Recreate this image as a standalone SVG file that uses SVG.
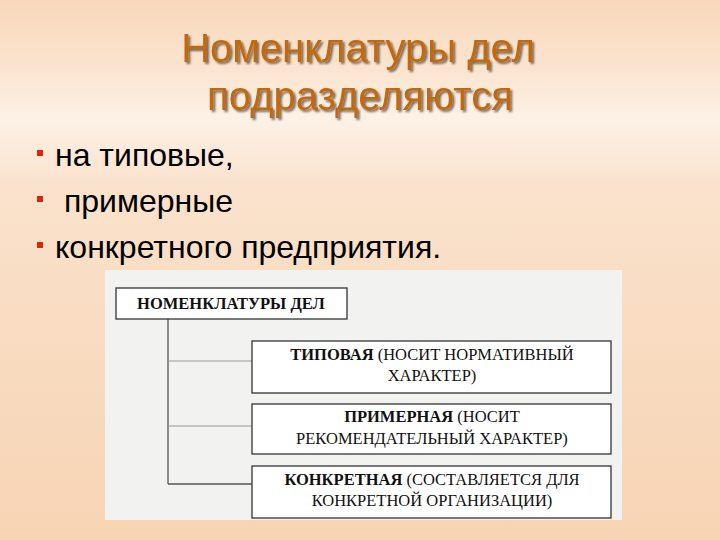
<svg xmlns="http://www.w3.org/2000/svg" width="720" height="540" viewBox="0 0 720 540">
<defs>
<linearGradient id="bg" x1="0" y1="0" x2="0" y2="1">
<stop offset="0" stop-color="#f8d8ba"/>
<stop offset="0.14" stop-color="#fbe6d2"/>
<stop offset="0.22" stop-color="#fdf1e6"/>
<stop offset="0.35" stop-color="#fae2cc"/>
<stop offset="0.6" stop-color="#f9dcc2"/>
<stop offset="1" stop-color="#f7d4b4"/>
</linearGradient>
<filter id="sh" x="-5%" y="-20%" width="110%" height="140%">
<feGaussianBlur in="SourceAlpha" stdDeviation="0.8"/>
<feOffset dx="2" dy="2"/>
<feComponentTransfer><feFuncA type="linear" slope="0.55"/></feComponentTransfer>
<feMerge><feMergeNode/><feMergeNode in="SourceGraphic"/></feMerge>
</filter>
</defs>
<style>
.title{font-family:"Liberation Sans",Arial,sans-serif;font-size:40px;fill:#c2670f;text-anchor:middle}
.bul{font-family:"Liberation Sans",Arial,sans-serif;font-size:32px;fill:#000}
.sq{fill:#e0240a}
.box{fill:#fff;stroke:#333;stroke-width:1.3}
.t{font-family:"Liberation Serif","Times New Roman",serif;font-size:16.5px;fill:#111;text-anchor:middle}
.b{font-weight:bold}
.ln{stroke:#555;stroke-width:1.3;fill:none}
.lnl{stroke:#999;stroke-width:1;fill:none}
</style>
<rect width="720" height="540" fill="url(#bg)"/>
<g id="title" filter="url(#sh)">
<text class="title" x="358" y="62">Номенклатуры дел</text>
<text class="title" x="360" y="110">подразделяются</text>
</g>
<g id="bullets">
<rect class="sq" x="37" y="150" width="6" height="6"/>
<rect class="sq" x="37" y="196" width="6" height="6"/>
<rect class="sq" x="37" y="242" width="6" height="6"/>
<text class="bul" x="55" y="166">на типовые,</text>
<text class="bul" x="55" y="212" xml:space="preserve"> примерные</text>
<text class="bul" x="55" y="258">конкретного предприятия.</text>
</g>
<rect id="panel" x="105" y="270" width="517" height="250" fill="#f2f2f1"/>
<g id="connectors">
<line class="ln" x1="168" y1="319" x2="168" y2="484"/>
<line class="lnl" x1="168" y1="361" x2="252" y2="361"/>
<line class="lnl" x1="168" y1="426" x2="252" y2="426"/>
<line class="ln" x1="168" y1="484" x2="252" y2="484"/>
</g>
<g id="root">
<rect class="box" x="116" y="288" width="231" height="31"/>
<text class="t b" x="231" y="309">НОМЕНКЛАТУРЫ ДЕЛ</text>
</g>
<g id="tipovaya">
<rect class="box" x="252" y="341" width="359" height="52"/>
<text class="t" x="432" y="360"><tspan class="b">ТИПОВАЯ</tspan> (НОСИТ НОРМАТИВНЫЙ</text>
<text class="t" x="432" y="381">ХАРАКТЕР)</text>
</g>
<g id="primernaya">
<rect class="box" x="252" y="404" width="359" height="50"/>
<text class="t" x="432" y="422"><tspan class="b">ПРИМЕРНАЯ</tspan> (НОСИТ</text>
<text class="t" x="432" y="444">РЕКОМЕНДАТЕЛЬНЫЙ ХАРАКТЕР)</text>
</g>
<g id="konkretnaya">
<rect class="box" x="252" y="466" width="359" height="52"/>
<text class="t" x="432" y="485"><tspan class="b">КОНКРЕТНАЯ</tspan> (СОСТАВЛЯЕТСЯ ДЛЯ</text>
<text class="t" x="432" y="506">КОНКРЕТНОЙ ОРГАНИЗАЦИИ)</text>
</g>
</svg>
